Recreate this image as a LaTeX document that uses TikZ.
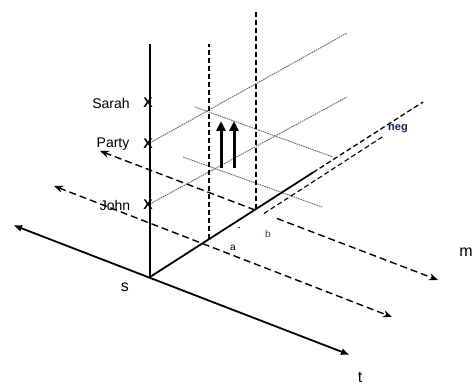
\documentclass[tikz,border=0pt]{standalone}
\usepackage{fontspec}
\setmainfont{Liberation Sans}
\usetikzlibrary{arrows.meta}
\definecolor{labblue}{RGB}{40,60,120}
\definecolor{negblue}{RGB}{25,35,80}
\begin{document}
\begin{tikzpicture}[x=1pt,y=-1pt,
  axisline/.style={line width=1.8pt},
  axisarrows/.style={line width=1.8pt, {Latex[length=9pt,width=7pt]}-{Latex[length=9pt,width=7pt]}},
  dashline/.style={line width=1.4pt, dash pattern=on 7pt off 4pt},
  dashtip/.style={dashline, -{Stealth[length=9pt,width=7pt]}},
  dashboth/.style={dashline, {Stealth[length=9pt,width=7pt]}-{Stealth[length=9pt,width=7pt]}},
  vdash/.style={line width=1.1pt, dash pattern=on 5pt off 3pt},
  grayline/.style={line width=0.9pt, black!60, dash pattern=on 1.6pt off 0.8pt},
  uparrow/.style={line width=3pt, -{Triangle[length=10pt,width=9pt]}},
  lab/.style={font=\fontsize{14}{16}\selectfont, inner sep=0pt},
  biglab/.style={font=\fontsize{16}{18}\selectfont, inner sep=0pt},
  smalllab/.style={font=\fontsize{10}{12}\selectfont, inner sep=0pt},
  xmark/.style={font=\fontsize{14}{16}\selectfont\bfseries, inner sep=0pt}]
\useasboundingbox[fill=white] (0,0) rectangle (475,385);
% key points
\coordinate (O) at (150,277);
\coordinate (L) at (13,225);
\coordinate (T) at (350,355);
\coordinate (Vtop) at (150,44);
\coordinate (Aend) at (313,172.5);
\coordinate (Nend) at (423,102);
\coordinate (D2s) at (264,213.5);
\coordinate (D2e) at (383,136.5);
% dashed arrows
\coordinate (UL) at (100,151);
\coordinate (B) at (255,210);
\coordinate (G) at (277,218.5);
\coordinate (UR) at (438,280);
\coordinate (LL) at (54,186);
\coordinate (LR) at (392,317);
% vertical dashed
\coordinate (V1t) at (209,44);
\coordinate (V1b) at (209,239);
\coordinate (V2t) at (256,10);
\coordinate (V2b) at (256,209);
% gray lines
\coordinate (Pe) at (347,33);
\coordinate (Je) at (347,97);
\coordinate (C1s) at (195,107);
\coordinate (C1e) at (333,157);
\coordinate (C2s) at (183,157);
\coordinate (C2e) at (322,207);
% up arrows
\coordinate (A1b) at (221,168);
\coordinate (A1t) at (221,121);
\coordinate (A2b) at (234,168);
\coordinate (A2t) at (234,121);

% gray lines
\draw[grayline] (148,144) coordinate (Ps) -- (Pe);
\draw[grayline] (148,205) coordinate (Js) -- (Je);
\draw[grayline] (C1s) -- (C1e);
\draw[grayline] (C2s) -- (C2e);

% vertical dashed
\draw[vdash] (V1b) -- (V1t);
\draw[vdash] (V2b) -- (V2t);

% dashed arrows
\draw[dashtip] (B) -- (UL);
\draw[dashtip] (G) -- (UR);
\draw[dashboth] (LL) -- (LR);

% axes
\draw[axisarrows] (L) -- (T);
\draw[axisline] (O) -- (Vtop);
\draw[axisline] (O) -- (Aend);
\draw[line width=1.3pt, dash pattern=on 5pt off 3pt] (Aend) -- (Nend);
\draw[line width=1.1pt, dash pattern=on 5pt off 3pt] (D2s) -- (D2e);

% up arrows
\draw[uparrow] (A1b) -- (A1t);
\draw[uparrow] (A2b) -- (A2t);

% small dot
\fill (239,227.5) circle (0.9pt) coordinate (dot);

% X marks and names
\node[xmark] (xs) at (148,103) {X};
\node[xmark] (xp) at (148,144) {X};
\node[xmark] (xj) at (148,205) {X};
\node[lab] (sarah) at (111,103) {Sarah};
\node[lab] (party) at (113,144) {Party};
\node[lab] (john) at (115,205) {John};

% axis labels
\node[biglab] (s) at (125,287) {s};
\node[biglab] (t) at (360,377) {t};
\node[biglab] (m) at (466,252) {m};
\node[smalllab] (a) at (233,248) {a};
\node[smalllab, text=labblue] (b) at (268,234) {b};
\node[font=\fontsize{11}{13}\selectfont\bfseries, text=negblue, inner sep=0pt] (neg) at (398,129) {neg};
\end{tikzpicture}
\end{document}
